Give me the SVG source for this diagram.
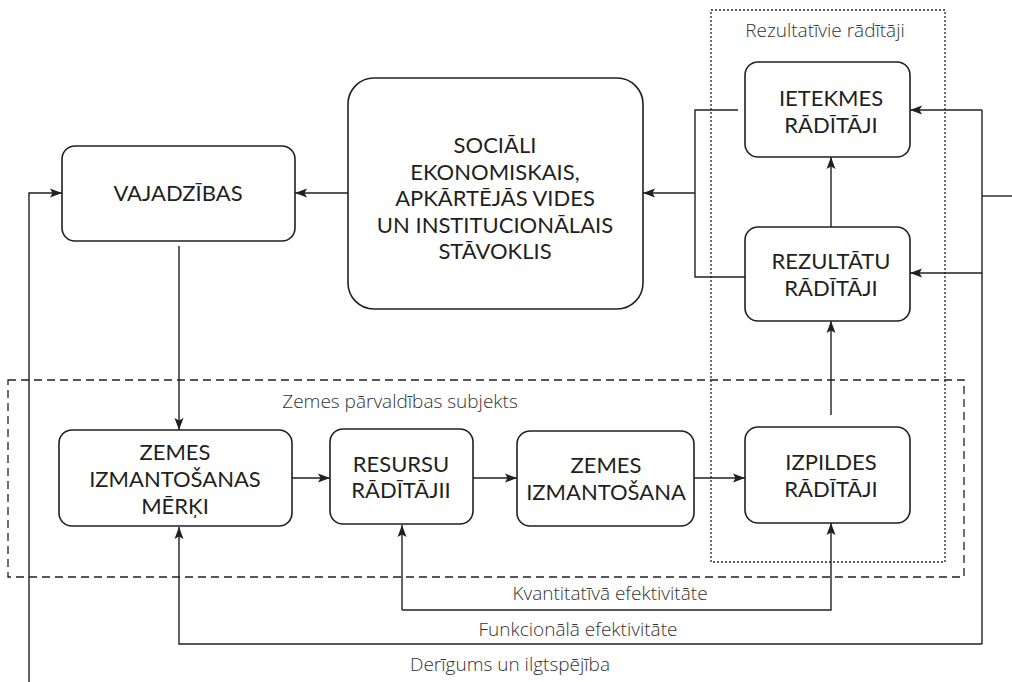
<svg xmlns="http://www.w3.org/2000/svg" width="1012" height="682" viewBox="0 0 1012 682">
<defs>
<marker id="ah" markerWidth="13" markerHeight="10" refX="12" refY="5" orient="auto" markerUnits="userSpaceOnUse">
<path d="M0,0.5 L12,5 L0,9.5 L2.5,5 z" fill="#231f20"/>
</marker>
<style>
.box{fill:#fff;stroke:#231f20;stroke-width:1.6}
.t{font-family:Lato,"Open Sans","Liberation Sans",sans-serif;font-size:22px;fill:#231f20;text-anchor:middle}
.lbl{font-family:"Open Sans","Noto Sans","Liberation Sans",sans-serif;font-size:19px;font-weight:300;fill:#333;text-anchor:middle}
.ln{fill:none;stroke:#231f20;stroke-width:1.4}
.ar{fill:none;stroke:#231f20;stroke-width:1.4;marker-end:url(#ah)}
.dot{fill:none;stroke:#231f20;stroke-width:1.3;stroke-dasharray:2 2}
.dash{fill:none;stroke:#231f20;stroke-width:1.3;stroke-dasharray:8 5}
</style>
</defs>
<rect width="1012" height="682" fill="#fff"/>

<g id="group-rezultativie">
<rect class="dot" x="711" y="10" width="234" height="552"/>
<text class="lbl" x="825" y="37">Rezultatīvie rādītāji</text>
</g>
<g id="group-zemes-parvaldibas">
<rect class="dash" x="8" y="380" width="956" height="197"/>
<text class="lbl" x="400" y="408">Zemes pārvaldības subjekts</text>
</g>

<g id="connectors">
<path class="ar" d="M348,193 H295"/>
<path class="ar" d="M29,682 V193 H62"/>
<path class="ar" d="M179,246 V430"/>
<path class="ln" d="M738,110 H695 V277 H745"/>
<path class="ar" d="M695,193 H643"/>
<path class="ar" d="M831,227 V157"/>
<path class="ar" d="M831,415 V321"/>
<path class="ar" d="M982,110 H910"/>
<path class="ar" d="M982,273 H910"/>
<path class="ln" d="M982,110 V644"/>
<path class="ln" d="M982,196 H1012"/>
<path class="ar" d="M982,644 H179 V527"/>
<path class="ar" d="M292,478 H330"/>
<path class="ar" d="M473,478 H517"/>
<path class="ar" d="M694,478 H745"/>
<path class="ar" d="M402,610 V525"/>
<path class="ar" d="M402,610 H831 V523"/>
<text class="lbl" x="610" y="600">Kvantitatīvā efektivitāte</text>
<text class="lbl" x="578" y="636">Funkcionālā efektivitāte</text>
<text class="lbl" x="510" y="671">Derīgums un ilgtspējība</text>
</g>

<g id="node-vajadzibas">
<rect class="box" x="62" y="146" width="233" height="95" rx="13"/>
<text class="t" x="178" y="201">VAJADZĪBAS</text>
</g>
<g id="node-socialais">
<rect class="box" x="348" y="78" width="295" height="231" rx="26"/>
<text class="t" x="495"><tspan x="495" y="153">SOCIĀLI</tspan><tspan x="495" y="179.5">EKONOMISKAIS,</tspan><tspan x="495" y="206">APKĀRTĒJĀS VIDES</tspan><tspan x="495" y="232.5">UN INSTITUCIONĀLAIS</tspan><tspan x="495" y="259">STĀVOKLIS</tspan></text>
</g>
<g id="node-ietekmes">
<rect class="box" x="745" y="62" width="165" height="95" rx="13"/>
<text class="t"><tspan x="831" y="106">IETEKMES</tspan><tspan x="831" y="132.5">RĀDĪTĀJI</tspan></text>
</g>
<g id="node-rezultatu">
<rect class="box" x="745" y="227" width="165" height="94" rx="13"/>
<text class="t"><tspan x="831" y="269">REZULTĀTU</tspan><tspan x="831" y="296">RĀDĪTĀJI</tspan></text>
</g>
<g id="node-merki">
<rect class="box" x="59" y="430" width="233" height="96" rx="13"/>
<text class="t"><tspan x="175" y="460">ZEMES</tspan><tspan x="175" y="487">IZMANTOŠANAS</tspan><tspan x="175" y="514">MĒRĶI</tspan></text>
</g>
<g id="node-resursu">
<rect class="box" x="330" y="429" width="143" height="95" rx="13"/>
<text class="t"><tspan x="401" y="471.5">RESURSU</tspan><tspan x="401" y="498">RĀDĪTĀJII</tspan></text>
</g>
<g id="node-izmantosana">
<rect class="box" x="517" y="431" width="177" height="95" rx="13"/>
<text class="t"><tspan x="606" y="473">ZEMES</tspan><tspan x="606" y="500">IZMANTOŠANA</tspan></text>
</g>
<g id="node-izpildes">
<rect class="box" x="745" y="427" width="165" height="96" rx="13"/>
<text class="t"><tspan x="831" y="470">IZPILDES</tspan><tspan x="831" y="497">RĀDĪTĀJI</tspan></text>
</g>
</svg>
